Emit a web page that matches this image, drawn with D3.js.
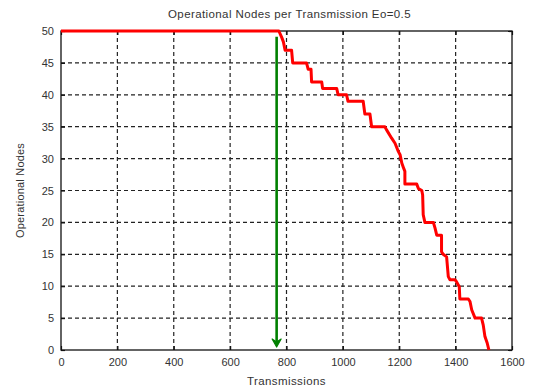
<!DOCTYPE html>
<html>
<head>
<meta charset="utf-8">
<script src="https://cdn.jsdelivr.net/npm/d3@7"></script>
<style>
  html, body { margin: 0; padding: 0; background: #fff; }
  svg { display: block; }
  text { font-family: "Liberation Sans", Arial, sans-serif; fill: #333; }
</style>
</head>
<body>
<svg id="chart" width="536" height="392"></svg>
<script>
// Number of operational nodes after each transmission (Eo = 0.5)
const transmissions = [0, 773, 783, 789, 795, 818, 822, 871, 877, 887,
  889, 925, 928, 978, 983, 1013, 1018, 1072, 1078, 1096,
  1102, 1149, 1155, 1173, 1185, 1197, 1203, 1209, 1214, 1220,
  1220, 1262, 1268, 1280, 1283, 1285, 1291, 1321, 1327, 1333,
  1350, 1350, 1356, 1368, 1374, 1380, 1398, 1403, 1413, 1415,
  1445, 1451, 1457, 1469, 1492, 1498, 1504, 1512, 1518];
const nodes = [50, 50, 49, 48.3, 47, 47, 45, 45, 44, 44,
  42, 42, 41, 41, 40, 40, 39, 39, 37, 37,
  35, 35, 34.5, 33.2, 32.4, 31.1, 30.6, 29.3, 28.7, 28,
  26, 26, 25.3, 25, 24.3, 21.2, 20, 20, 19.1, 18,
  18, 15.4, 15, 14.6, 11.5, 11, 11, 10.7, 9.9, 8,
  8, 7.6, 6.3, 5, 5, 3.9, 2.1, 1.1, 0];

// First node death marker
const firstDeathX = [765];
const firstDeathFrom = [49.1];

const xTicks = [0, 200, 400, 600, 800, 1000, 1200, 1400, 1600];
const yTicks = [0, 5, 10, 15, 20, 25, 30, 35, 40, 45, 50];

const margin = { left: 61, right: 24, top: 31, bottom: 42 };
const W = 536, H = 392;
const svg = d3.select("#chart");

const x = d3.scaleLinear().domain([0, 1600]).range([margin.left, W - margin.right]);
const y = d3.scaleLinear().domain([0, 50]).range([H - margin.bottom, margin.top]);

// dashed grid
const grid = svg.append("g").attr("stroke", "#222").attr("stroke-width", 1.2)
  .attr("stroke-dasharray", "4,3");
grid.selectAll(".gx").data(xTicks.slice(1, -1)).join("line")
  .attr("x1", d => x(d)).attr("x2", d => x(d))
  .attr("y1", y(0)).attr("y2", y(50));
grid.selectAll(".gy").data(yTicks.slice(1, -1)).join("line")
  .attr("x1", x(0)).attr("x2", x(1600))
  .attr("y1", d => y(d)).attr("y2", d => y(d));

// axes with inward ticks
const fmt = d3.format("d");
const xAxis = d3.axisBottom(x).tickValues(xTicks).tickFormat(fmt).tickSizeInner(-4).tickSizeOuter(0).tickPadding(8);
const yAxis = d3.axisLeft(y).tickValues(yTicks).tickFormat(fmt).tickSizeInner(-4).tickSizeOuter(0).tickPadding(7);
const xTop = d3.axisTop(x).tickValues(xTicks).tickSizeInner(-4).tickSizeOuter(0).tickFormat("");
const yRight = d3.axisRight(y).tickValues(yTicks).tickSizeInner(-4).tickSizeOuter(0).tickFormat("");

function styleAxis(g) {
  g.select(".domain").remove();
  g.selectAll("line").attr("stroke", "#111").attr("stroke-width", 1.2);
  g.selectAll("text").attr("font-size", 11).attr("fill", "#333")
    .style("font-family", "'Liberation Sans', Arial, sans-serif");
}
svg.append("g").attr("transform", `translate(0,${y(0)})`).call(xAxis).call(styleAxis);
svg.append("g").attr("transform", `translate(${x(0)},0)`).call(yAxis).call(styleAxis);
svg.append("g").attr("transform", `translate(0,${y(50)})`).call(xTop).call(styleAxis);
svg.append("g").attr("transform", `translate(${x(1600)},0)`).call(yRight).call(styleAxis);

// frame
svg.append("rect")
  .attr("x", x(0)).attr("y", y(50))
  .attr("width", x(1600) - x(0)).attr("height", y(0) - y(50))
  .attr("fill", "none").attr("stroke", "#111").attr("stroke-width", 1.3);

// operational nodes curve
const pts = transmissions.map((t, i) => [t, nodes[i]]);
svg.append("path")
  .datum(pts)
  .attr("fill", "none")
  .attr("stroke", "#ff0000")
  .attr("stroke-width", 3)
  .attr("stroke-linejoin", "round")
  .attr("d", d3.line().x(d => x(d[0])).y(d => y(d[1])));

// arrow marking the first node death
const ax = x(firstDeathX[0]);
svg.append("line")
  .attr("x1", ax).attr("x2", ax)
  .attr("y1", y(firstDeathFrom[0])).attr("y2", y(0) - 6)
  .attr("stroke", "#008000").attr("stroke-width", 2.6);
svg.append("path")
  .attr("d", `M${ax - 4.5},${y(0) - 11} L${ax},${y(0) - 3} L${ax + 4.5},${y(0) - 11} L${ax},${y(0) - 8} Z`)
  .attr("fill", "#008000").attr("stroke", "#008000").attr("stroke-width", 1.2)
  .attr("stroke-linejoin", "round");

// titles
svg.append("text")
  .attr("x", (x(0) + x(1600)) / 2 + 3).attr("y", 18)
  .attr("text-anchor", "middle").attr("font-size", 11.5)
  .attr("letter-spacing", 0.4)
  .text("Operational Nodes per Transmission Eo=0.5");
svg.append("text")
  .attr("x", (x(0) + x(1600)) / 2).attr("y", 385)
  .attr("text-anchor", "middle").attr("font-size", 11.5)
  .attr("letter-spacing", 0.4)
  .text("Transmissions");
svg.append("text")
  .attr("transform", `translate(24,${(y(0) + y(50)) / 2}) rotate(-90)`)
  .attr("text-anchor", "middle").attr("font-size", 11)
  .attr("letter-spacing", 0.2)
  .text("Operational Nodes");
</script>
</body>
</html>
